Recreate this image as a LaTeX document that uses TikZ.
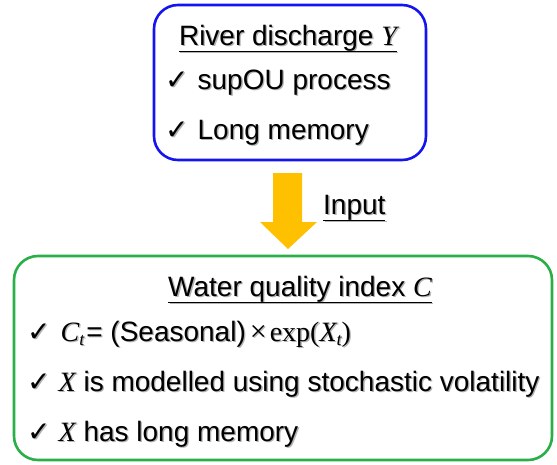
\documentclass[tikz,border=0pt]{standalone}
\usepackage{fontspec}
\setmainfont{Liberation Sans}
\newfontfamily\tms{Liberation Serif}
\newfontfamily\djv{DejaVu Sans}
\definecolor{boxblue}{RGB}{20,20,240}
\definecolor{boxgreen}{RGB}{40,175,70}
\definecolor{arrowgold}{RGB}{255,192,0}
% text with a soft drop shadow
\newcommand\shd[1]{\makebox[0pt][l]{\kern1.3pt\raisebox{-1.3pt}{\color{black!30}#1}}#1}
% underline with a heavier rule
\newlength\ulw
\newcommand\ulin[1]{\settowidth\ulw{#1}\rlap{\rule[-7pt]{\ulw}{1.5pt}}#1}
% italic serif symbol
\newcommand\mi[1]{{\tms\itshape #1}}
\newcommand\tick{{\djv\fontsize{28}{28}\selectfont ✓}}
\tikzset{
  titletext/.style={anchor=base, inner sep=0pt, font=\fontsize{28}{32}\selectfont},
  itemtext/.style={anchor=base west, inner sep=0pt, font=\fontsize{28}{32}\selectfont},
  panel/.style={rounded corners=24pt, line width=2.6pt, fill=white},
}
\begin{document}
\begin{tikzpicture}[x=1pt, y=-1pt]
\useasboundingbox (0,0) rectangle (557,464);
% top panel
\draw[panel, draw=boxblue] (154,5) rectangle (426,160);
\node[titletext] (ttitle) at (288,45) {\shd{\ulin{River discharge \mi{Y}}}};
\node[itemtext] (t1) at (165,89) {\shd{\tick\hspace{9pt}supOU process}};
\node[itemtext] (t2) at (165,139) {\shd{\tick\hspace{9pt}Long memory}};
% input arrow
\fill[arrowgold] (273,173) -- (302,173) -- (302,222) -- (317,222) -- (288,249) -- (260,222) -- (273,222) -- cycle;
\node[itemtext] (inp) at (323,214) {\shd{\ulin{Input}}};
% bottom panel
\draw[panel, draw=boxgreen] (14,256) rectangle (552,460);
\node[titletext] (btitle) at (300,296) {\shd{\ulin{Water quality index \mi{C}}}};
\node[itemtext] (b1) at (27,341) {\shd{\tick\hspace{10pt}\mi{C}\raisebox{-4pt}{\fontsize{18}{18}\selectfont\mi{t}}\hspace{2pt}= (Seasonal)\hspace{4pt}{\tms\fontsize{30}{30}\selectfont×}\hspace{3pt}{\tms exp(\mi{X}\raisebox{-4pt}{\fontsize{18}{18}\selectfont\mi{t}})}}};
\node[itemtext] (b2) at (27,391) {\shd{\tick\hspace{8pt}\mi{X} is modelled using stochastic volatility}};
\node[itemtext] (b3) at (27,441) {\shd{\tick\hspace{8pt}\mi{X} has long memory}};
\end{tikzpicture}
\end{document}
